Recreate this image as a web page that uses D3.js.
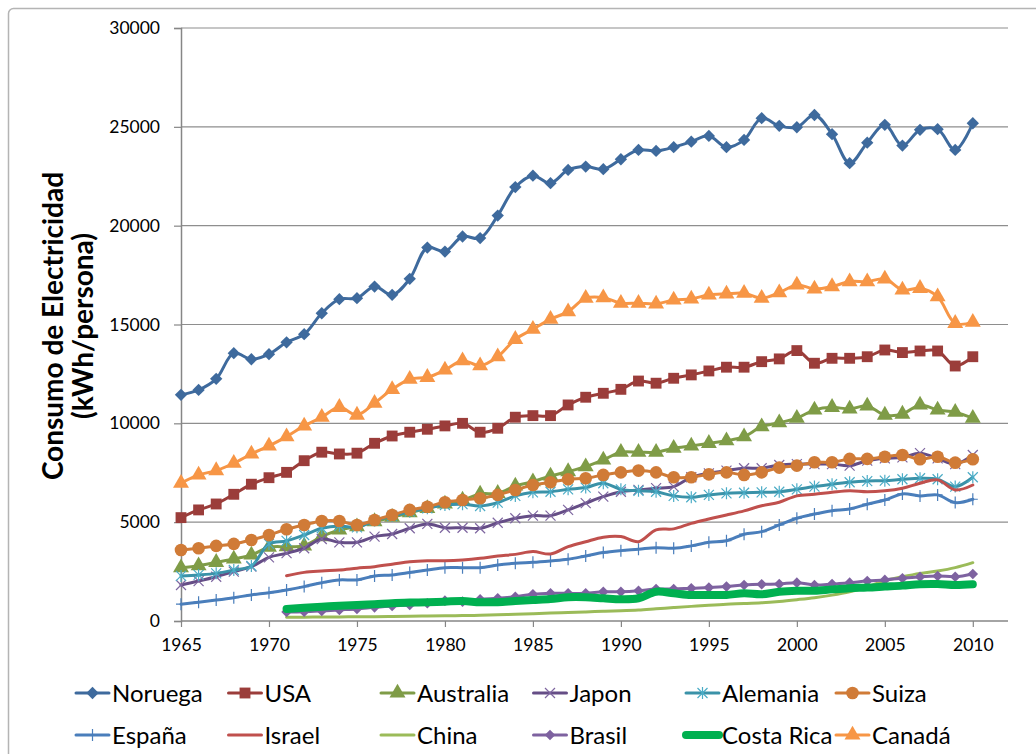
<!DOCTYPE html>
<html><head><meta charset="utf-8">
<script src="https://cdn.jsdelivr.net/npm/d3@7"></script>
<style>body{margin:0;background:#fff}svg{display:block}text{font-family:Lato,"Open Sans",sans-serif;fill:#000}</style>
</head><body><svg id="c" width="1036" height="754"></svg>
<script>
const years = [1965,1966,1967,1968,1969,1970,1971,1972,1973,1974,1975,1976,1977,1978,1979,1980,1981,1982,1983,1984,1985,1986,1987,1988,1989,1990,1991,1992,1993,1994,1995,1996,1997,1998,1999,2000,2001,2002,2003,2004,2005,2006,2007,2008,2009,2010];
const xTickLabels = [1965,1970,1975,1980,1985,1990,1995,2000,2005,2010];
const yTickLabels = [0,5000,10000,15000,20000,25000,30000];
const seriesNames = ["Noruega","USA","Australia","Japon","Alemania","Suiza","España","Israel","China","Brasil","Costa Rica","Canadá"];

const noruega = [11440,11690,12250,13550,13240,13500,14100,14510,15570,16280,16330,16920,16500,17310,18890,18690,19450,19370,20510,21950,22530,22150,22820,22990,22860,23360,23830,23780,23970,24250,24540,23970,24340,25440,25050,24980,25600,24630,23160,24200,25100,24050,24850,24880,23830,25180];
const usa = [5230,5620,5920,6410,6920,7250,7520,8110,8540,8450,8490,8990,9360,9550,9700,9870,10000,9550,9750,10310,10390,10390,10930,11320,11520,11720,12140,12030,12280,12450,12650,12840,12840,13120,13260,13680,13040,13290,13290,13370,13710,13580,13660,13660,12900,13370];
const australia = [2700,2800,2970,3140,3340,3730,3760,3800,4270,4610,4770,5030,5250,5480,5700,5920,6120,6430,6460,6830,7050,7340,7560,7810,8150,8540,8540,8540,8740,8860,8990,9120,9330,9830,10030,10260,10680,10810,10730,10880,10420,10470,10930,10680,10560,10260];
const japon = [1820,2020,2240,2500,2750,3220,3430,3680,4150,3980,3980,4270,4400,4690,4910,4720,4720,4690,4970,5200,5330,5330,5620,5960,6290,6540,6630,6720,6800,7270,7470,7610,7730,7730,7890,7940,7940,7940,7860,8110,8230,8280,8490,8230,7940,8400];
const alemania = [2280,2330,2410,2580,2780,3900,4050,4350,4690,4810,4740,5080,5310,5530,5700,5870,5910,5820,5990,6330,6510,6540,6660,6750,6970,6660,6590,6540,6330,6260,6380,6460,6490,6510,6540,6660,6800,6920,7020,7080,7100,7170,7220,7170,6800,7270];
const suiza = [3590,3680,3800,3900,4100,4350,4640,4860,5060,5060,4860,5110,5360,5620,5780,6010,6120,6210,6380,6630,6880,7020,7170,7220,7390,7520,7610,7520,7270,7270,7420,7520,7390,7520,7760,7860,8030,8030,8200,8200,8310,8400,8180,8310,8010,8180];
const espana = [850,950,1060,1180,1320,1430,1570,1740,1940,2080,2080,2280,2330,2450,2580,2700,2700,2700,2830,2920,2970,3040,3120,3290,3460,3560,3630,3710,3680,3800,3980,4060,4390,4520,4860,5200,5410,5580,5670,5910,6120,6430,6330,6380,5990,6160];
const israel = [null,null,null,null,null,null,2290,2460,2530,2580,2670,2750,2870,3000,3050,3050,3090,3170,3290,3370,3510,3390,3760,4010,4240,4270,4010,4610,4660,4940,5160,5360,5570,5830,6010,6330,6410,6510,6590,6540,6590,6720,6970,7140,6630,6880];
const china = [null,null,null,null,null,null,190,195,200,205,215,220,230,245,255,265,275,290,310,340,370,400,430,460,490,520,560,620,680,740,800,850,880,920,990,1080,1180,1310,1480,1720,2040,2240,2410,2530,2700,2950];
const brasil = [null,null,null,null,null,null,460,470,510,560,610,690,760,810,900,1030,980,1100,1150,1230,1350,1400,1400,1400,1480,1480,1530,1620,1620,1660,1690,1740,1820,1860,1870,1940,1820,1870,1940,2020,2080,2160,2240,2280,2240,2380];
const costaRica = [null,null,null,null,null,null,610,670,720,770,810,850,900,930,950,980,1010,950,950,1010,1060,1110,1200,1200,1150,1100,1150,1480,1400,1320,1320,1320,1400,1350,1480,1530,1530,1600,1660,1690,1740,1790,1860,1870,1820,1860];
const canada = [6970,7390,7610,7980,8450,8860,9330,9870,10310,10810,10420,11020,11720,12230,12330,12700,13170,12920,13370,14250,14760,15270,15650,16330,16360,16080,16080,16040,16240,16290,16500,16550,16580,16330,16610,17000,16800,16920,17170,17170,17310,16750,16830,16410,15060,15120];

const seriesValues = [noruega,usa,australia,japon,alemania,suiza,espana,israel,china,brasil,costaRica,canada];

// styles
const styles = [
  {color:"#3E6A9D", w:3, marker:"diamond", mfill:"#3E6A9D"},
  {color:"#9B3D3A", w:3, marker:"square", mfill:"#9B3D3A"},
  {color:"#7F9C47", w:3, marker:"triangle", mfill:"#7F9C47"},
  {color:"#654D86", w:3, marker:"x", mfill:"#7E66A0"},
  {color:"#3A92A8", w:3, marker:"star", mfill:"#4BACC6"},
  {color:"#D07B37", w:3, marker:"circle", mfill:"#D07B37"},
  {color:"#4A7EBB", w:3, marker:"plus", mfill:"#4A7EBB"},
  {color:"#C0504D", w:3, marker:null},
  {color:"#9BBB59", w:3, marker:null},
  {color:"#7E62A0", w:3, marker:"diamondS", mfill:"#7E62A0"},
  {color:"#00B050", w:8, marker:null},
  {color:"#F79646", w:3, marker:"triangle", mfill:"#F79646"}
];

const svg = d3.select("#c");
svg.append("rect").attr("x",8.5).attr("y",8.5).attr("width",1100).attr("height",900).attr("rx",5)
  .attr("fill","#fff").attr("stroke","#b4b4b4").attr("stroke-width",1.5);

const x = d3.scaleLinear().domain([1965,2012]).range([181,1008]);
const y = d3.scaleLinear().domain([0,30000]).range([621,28]);

// gridlines
svg.append("g").selectAll("line").data(yTickLabels.slice(1)).join("line")
  .attr("x1",181).attr("x2",1008).attr("y1",d=>y(d)).attr("y2",d=>y(d))
  .attr("stroke","#8e8e8e").attr("stroke-width",1.2);

// y axis
const yAxis = svg.append("g").attr("transform","translate(181,0)")
  .call(d3.axisLeft(y).tickValues(yTickLabels).tickSize(7).tickPadding(14).tickFormat(d3.format("d")));
yAxis.select(".domain").attr("stroke","#868686").attr("stroke-width",1.5);
yAxis.selectAll(".tick line").attr("stroke","#868686").attr("stroke-width",1.2);
yAxis.selectAll("text").style("font-size","17.5px").style("font-family","Lato").attr("fill","#000");

// x axis
const xAxis = svg.append("g").attr("transform","translate(0,621)")
  .call(d3.axisBottom(x).tickValues(xTickLabels).tickSize(6).tickPadding(12).tickFormat(d3.format("d")));
xAxis.select(".domain").attr("stroke","#868686").attr("stroke-width",1.5).attr("d","M181,0H1008");
xAxis.selectAll(".tick line").attr("stroke","#868686").attr("stroke-width",1.2);
xAxis.selectAll("text").style("font-size","17.5px").style("font-family","Lato").attr("fill","#000");

// y title
const yt = svg.append("text").attr("transform","translate(0,326) rotate(-90)")
  .attr("text-anchor","middle").style("font-weight","bold").style("font-size","28px");
yt.append("tspan").attr("x",0).attr("y",63).text("Consumo de Electricidad");
yt.append("tspan").attr("x",0).attr("y",93).text("(kWh/persona)");

function markerPath(type){
  switch(type){
    case "diamond": return {d:d3.symbol(d3.symbolSquare,76)(), rot:45, stroke:false};
    case "diamondS": return {d:d3.symbol(d3.symbolSquare,56)(), rot:45, stroke:false};
    case "square": return {d:d3.symbol(d3.symbolSquare,118)(), rot:0, stroke:false};
    case "triangle": return {d:d3.symbol(d3.symbolTriangle,110)(), rot:0, stroke:false};
    case "circle": return {d:d3.symbol(d3.symbolCircle,125)(), rot:0, stroke:false};
    case "x": return {d:"M-5,-5L5,5M-5,5L5,-5", rot:0, stroke:true};
    case "star": return {d:"M-5,-5L5,5M-5,5L5,-5M0,-6L0,6", rot:0, stroke:true};
    case "plus": return {d:"M-5,0L5,0M0,-6L0,6", rot:0, stroke:true};
  }
}

const line = d3.line().defined(d=>d.v!=null).x(d=>x(d.year)).y(d=>y(d.v)).curve(d3.curveCatmullRom.alpha(0.5));

const plot = svg.append("g");
seriesValues.forEach((vals,i)=>{
  const st = styles[i];
  const data = years.map((yr,j)=>({year:yr, v:vals[j]}));
  const g = plot.append("g");
  g.append("path").datum(data).attr("d",line).attr("fill","none")
    .attr("stroke",st.color).attr("stroke-width",st.w).attr("stroke-linejoin","round").attr("stroke-linecap","round");
  if(st.marker){
    const m = markerPath(st.marker);
    g.selectAll("path.m").data(data.filter(d=>d.v!=null)).join("path").attr("class","m")
      .attr("d",m.d)
      .attr("transform",d=>`translate(${x(d.year)},${y(d.v)}) rotate(${m.rot})`)
      .attr("fill",m.stroke?"none":st.mfill)
      .attr("stroke",m.stroke?st.mfill:"none").attr("stroke-width",m.stroke?1.2:0);
  }
});

// legend
const legX = [112,264.5,417,569.5,722,872];
const legY = [693,735];
const leg = svg.append("g");
seriesNames.forEach((name,i)=>{
  const st = styles[i];
  const cx = legX[i%6], cy = legY[Math.floor(i/6)];
  const g = leg.append("g");
  g.append("line").attr("x1",cx-36).attr("x2",cx-3).attr("y1",cy).attr("y2",cy)
    .attr("stroke",st.color).attr("stroke-width",st.w).attr("stroke-linecap","round");
  if(st.marker){
    const m = markerPath(st.marker);
    g.append("path").attr("d",m.d).attr("transform",`translate(${cx-19.5},${cy}) rotate(${m.rot})`)
      .attr("fill",m.stroke?"none":st.mfill).attr("stroke",m.stroke?st.mfill:"none").attr("stroke-width",m.stroke?1.2:0);
  }
  g.append("text").attr("x",cx).attr("y",cy).attr("dy","0.36em").style("font-size","24px").text(name);
});
</script></body></html>
